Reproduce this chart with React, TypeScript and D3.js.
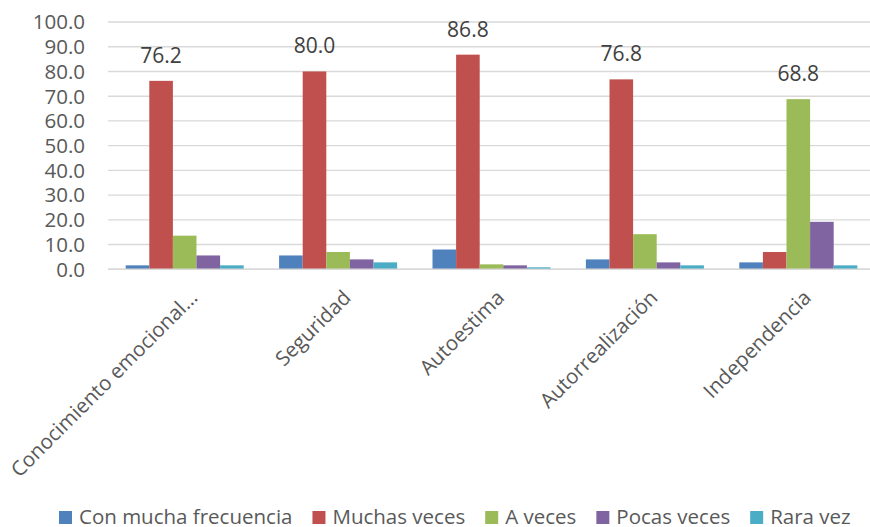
import React, { useEffect, useRef } from "react";
import * as d3 from "d3";

// Categories (dimensions) and response-frequency series, in percent
const categories = [
  "Conocimiento emocional…",
  "Seguridad",
  "Autoestima",
  "Autorrealización",
  "Independencia",
];
const seriesNames = ["Con mucha frecuencia", "Muchas veces", "A veces", "Pocas veces", "Rara vez"];
const conMuchaFrecuencia = [1.6, 5.6, 8.0, 4.0, 2.8];
const muchasVeces = [76.2, 80.0, 86.8, 76.8, 7.0];
const aVeces = [13.6, 7.0, 2.0, 14.2, 68.8];
const pocasVeces = [5.6, 4.0, 1.6, 2.8, 19.2];
const raraVez = [1.6, 2.8, 0.8, 1.6, 1.6];
const yTicks = [0, 10, 20, 30, 40, 50, 60, 70, 80, 90, 100];
const colors = ["#4f81bd", "#c0504d", "#9bbb59", "#8064a2", "#4bacc6"];

const W = 870;
const H = 527;
const FONT = "'Open Sans', 'Liberation Sans', sans-serif";

export default function App() {
  const ref = useRef<SVGSVGElement | null>(null);

  useEffect(() => {
    const svg = d3.select(ref.current);
    svg.selectAll("*").remove();

    const series = [conMuchaFrecuencia, muchasVeces, aVeces, pocasVeces, raraVez];
    const plotLeft = 108;
    const band = 153.4;

    const y = d3.scaleLinear().domain([0, 100]).range([269.3, 22]);
    const x0 = d3
      .scaleBand<string>()
      .domain(categories)
      .range([plotLeft, plotLeft + band * categories.length])
      .paddingInner(0)
      .paddingOuter(0);
    const barW = x0.bandwidth() / 6.5;
    const x1 = d3
      .scaleBand<string>()
      .domain(seriesNames)
      .range([barW * 0.75, x0.bandwidth() - barW * 0.75]);

    // gridlines
    svg
      .append("g")
      .selectAll("line")
      .data(yTicks)
      .join("line")
      .attr("x1", plotLeft)
      .attr("x2", plotLeft + band * categories.length)
      .attr("y1", (d) => y(d))
      .attr("y2", (d) => y(d))
      .attr("stroke", "#d9d9d9")
      .attr("stroke-width", 1.4);

    // y tick labels
    svg
      .append("g")
      .selectAll("text")
      .data(yTicks)
      .join("text")
      .attr("x", 85)
      .attr("y", (d) => y(d))
      .attr("dy", "0.36em")
      .attr("text-anchor", "end")
      .attr("font-family", FONT)
      .attr("font-size", 20.5)
      .attr("fill", "#595959")
      .text((d) => d.toFixed(1));

    // bars
    const groups = svg
      .append("g")
      .selectAll("g")
      .data(categories)
      .join("g")
      .attr("transform", (c) => `translate(${x0(c)},0)`);

    groups
      .selectAll("rect")
      .data((_, i) => series.map((s, k) => ({ name: seriesNames[k], v: s[i], k })))
      .join("rect")
      .attr("x", (d) => x1(d.name)!)
      .attr("width", x1.bandwidth())
      .attr("y", (d) => y(d.v))
      .attr("height", (d) => y(0) - y(d.v))
      .attr("fill", (d) => colors[d.k]);

    // value label on the tallest bar of each group
    groups.each(function (_, i) {
      const vals = series.map((s) => s[i]);
      const k = d3.maxIndex(vals);
      d3.select(this)
        .append("text")
        .attr("x", x1(seriesNames[k])! + x1.bandwidth() / 2)
        .attr("y", y(vals[k]) - 18)
        .attr("text-anchor", "middle")
        .attr("font-family", FONT)
        .attr("font-size", 21)
        .attr("fill", "#404040")
        .text(vals[k].toFixed(1));
    });

    // baseline axis
    svg
      .append("line")
      .attr("x1", plotLeft)
      .attr("x2", plotLeft + band * categories.length)
      .attr("y1", y(0))
      .attr("y2", y(0))
      .attr("stroke", "#d9d9d9")
      .attr("stroke-width", 1.6);

    // rotated category labels
    svg
      .append("g")
      .selectAll("text")
      .data(categories)
      .join("text")
      .attr("transform", (c) => `translate(${x0(c)! + x0.bandwidth() / 2 + 14},${299}) rotate(-45)`)
      .attr("text-anchor", "end")
      .attr("font-family", FONT)
      .attr("font-size", 20.5)
      .attr("fill", "#595959")
      .text((c) => c);

    // legend
    const legend = svg.append("g");
    let lx = 59;
    seriesNames.forEach((name, k) => {
      legend
        .append("rect")
        .attr("x", lx)
        .attr("y", 511)
        .attr("width", 13)
        .attr("height", 13)
        .attr("fill", colors[k]);
      const t = legend
        .append("text")
        .attr("x", lx + 20)
        .attr("y", 524)
        .attr("font-family", FONT)
        .attr("font-size", 20.5)
        .attr("fill", "#595959")
        .text(name);
      const w = (t.node() as SVGTextElement).getComputedTextLength();
      lx += 20 + w + 20;
    });
  }, []);

  return (
    <svg
      ref={ref}
      width={W}
      height={H}
      style={{ position: "absolute", left: 0, top: 0, background: "#ffffff" }}
    />
  );
}
